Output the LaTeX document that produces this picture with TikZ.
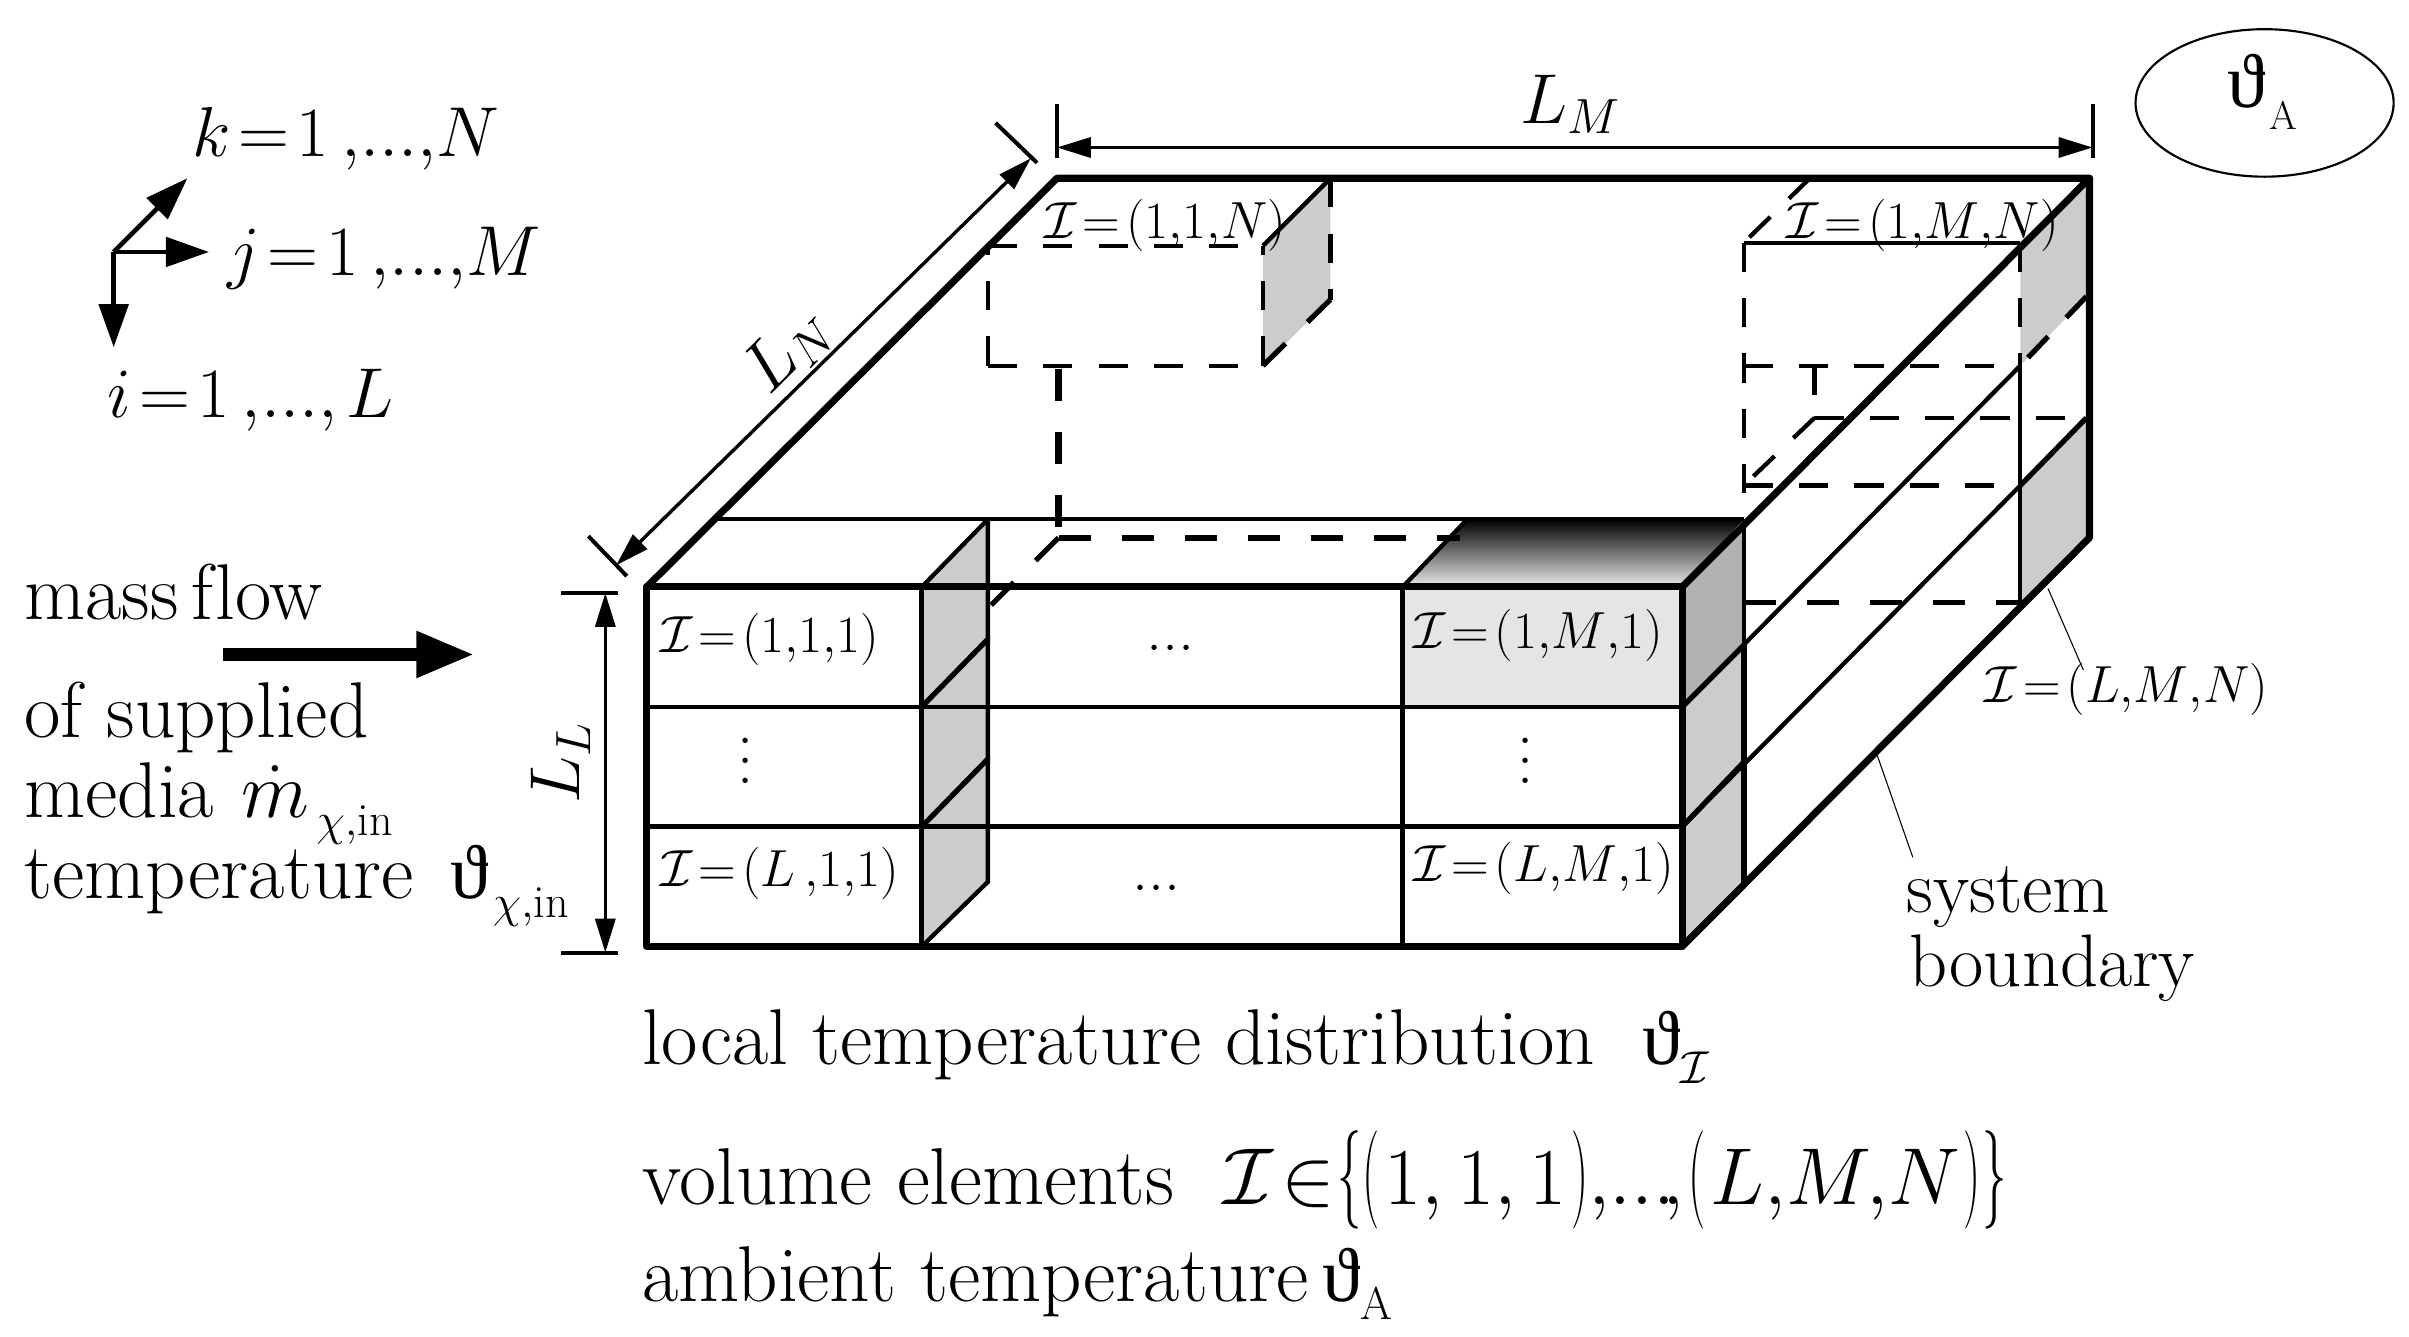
\RequirePackage{fix-cm}
\documentclass[tikz,border=0pt]{standalone}
\usepackage[no-math]{fontspec}
\usepackage{graphicx}
\newfontfamily\symfont{Liberation Serif}
\usetikzlibrary{arrows.meta,shapes.geometric}
\newcommand{\txtbig}{\fontsize{51.5}{56}\selectfont}
\newcommand{\txtsys}{\fontsize{48.5}{52}\selectfont}
\newcommand{\txtmath}{\fontsize{46}{50}\selectfont}
\newcommand{\txtdim}{\fontsize{46}{50}\selectfont}
\newcommand{\txtcell}{\fontsize{34}{40}\selectfont}
\newcommand{\txtdots}{\fontsize{42}{44}\selectfont}
\newcommand{\calI}{\mathcal{I}}
\newcommand{\vth}{{\symfont\fontsize{50}{50}\selectfont\symbol{"03D1}}}
\newcommand{\subtxt}[1]{\raisebox{-12pt}{\fontsize{30}{30}\selectfont #1}}
\newcommand{\tallp}[1]{\scalebox{0.6}[1.22]{$#1$}}
\newcommand{\vdotsbox}{\vbox{\baselineskip=13pt\lineskiplimit=-100pt\hbox{.}\hbox{.}\hbox{.}}}
\tikzset{
  lab/.style={anchor=base west,inner sep=0pt,outer sep=0pt},
  bigtext/.style={lab,font=\txtbig},
  celltext/.style={lab,font=\txtcell},
  outer/.style={line width=4.6pt,line cap=round,line join=round},
  inner/.style={line width=2.8pt},
  mid/.style={line width=3.4pt},
  hid/.style={line width=2.8pt,dash pattern=on 19pt off 17pt},
  hidthick/.style={line width=4.2pt,dash pattern=on 21pt off 20pt},
  dimline/.style={line width=2.2pt,{Triangle[length=22pt,width=13pt]}-{Triangle[length=22pt,width=13pt]}},
  tick/.style={line width=2.6pt},
  axis/.style={line width=3pt,-{Triangle[length=28pt,width=19pt]}},
  leader/.style={line width=0.7pt},
  panel/.style={fill=black!20,draw=none},
}
\begin{document}
\begin{tikzpicture}[x=1pt,y=-1pt]
\useasboundingbox (0,0) rectangle (1568,869.6);
% key corners
\coordinate (FTL) at (421,382);
\coordinate (FTR) at (1095,382);
\coordinate (FBR) at (1095,616);
\coordinate (FBL) at (421,616);
\coordinate (BTL) at (688,116);
\coordinate (BTR) at (1360,116);
\coordinate (BBR) at (1360,350);
% fills
\fill[black!10] (913,382) rectangle (1095,460);
\shade[top color=black,bottom color=black!8] (955,338) -- (1135,338) -- (1095,382) -- (913,382) -- cycle;
\fill[panel] (600,382) -- (643,338) -- (643,574) -- (600,616) -- cycle;
\fill[panel] (1095,460) -- (1135,420) -- (1135,574) -- (1095,616) -- cycle;
\fill[black!30] (1095,382) -- (1135,340) -- (1135,420) -- (1095,460) -- cycle;
\fill[panel] (822,160) -- (866,116) -- (866,195) -- (822,238) -- cycle;
\fill[panel] (1315,158) -- (1358,116) -- (1358,193) -- (1315,238) -- cycle;
\fill[panel] (1315,316) -- (1358,272) -- (1358,350) -- (1315,392) -- cycle;
% hidden edges
\draw[hid] (643,160) -- (822,160);
\draw[hid] (643,238) -- (643,160);
\draw[hid] (643,238) -- (822,238);
\draw[hid] (822,238) -- (822,160);
\draw[hid] (866,116) -- (866,195);
\draw[hidthick,line width=3.4pt] (866,195) -- (822,238);
\draw[inner] (822,160) -- (866,116);
\draw[hidthick] (689,240) -- (689,350);
\draw[hidthick] (689,350) -- (950,350);
\draw[hidthick,line width=3.4pt] (689,350) -- (643,396);
\draw[hid] (1178,116) -- (1135,158);
\draw[inner] (1135,158) -- (1315,158);
\draw[hid] (1135,158) -- (1135,340);
\draw[hid] (1315,158) -- (1315,238);
\draw[hid] (1135,238) -- (1315,238);
\draw[hid] (1135,316) -- (1315,316);
\draw[hidthick,line width=3pt] (1135,392) -- (1315,392);
\draw[hid] (1181,238) -- (1181,272);
\draw[hid] (1181,272) -- (1358,272);
\draw[hid] (1181,272) -- (1135,316);
\draw[hid,line width=3.4pt] (1358,193) -- (1315,238);
% visible thin edges
\draw[inner] (464,338) -- (1135,338);
\draw[inner] (643,338) -- (643,574) -- (600,616);
\draw[inner] (600,382) -- (643,338);
\draw[mid] (600,460) -- (643,416);
\draw[mid] (600,538) -- (643,494);
\draw[inner] (421,460) -- (1095,460);
\draw[mid] (421,538) -- (1095,538);
\draw[mid] (600,382) -- (600,616);
\draw[mid] (913,382) -- (913,616);
\draw[inner] (913,382) -- (955,338);
\draw[inner] (1315,238) -- (1095,460);
\draw[inner] (1315,316) -- (1095,538);
\draw[inner] (1315,238) -- (1315,392);
\draw[mid] (1358,272) -- (1315,316);
\draw[inner] (1135,340) -- (1135,420);
\draw[outer,line width=3.6pt] (1135,420) -- (1135,574);
\draw[mid] (1095,460) -- (1135,420);
\draw[mid] (1095,538) -- (1135,496);
% outer edges
\draw[outer] (FTL) -- (FTR) -- (FBR) -- (FBL) -- cycle;
\draw[outer] (FTL) -- (BTL) -- (BTR) -- (BBR) -- (FBR);
\draw[outer] (BTR) -- (FTR);
% dimensions
\coordinate (LMa) at (688,96); \coordinate (LMb) at (1362,96);
\draw[dimline] (LMa) -- (LMb);
\draw[tick] (688,68) -- (688,103);
\draw[tick] (1362,68) -- (1362,103);
\coordinate (LNa) at (401,368); \coordinate (LNb) at (671,103);
\draw[dimline] (LNa) -- (LNb);
\draw[tick] (383,349) -- (408,375);
\draw[tick] (648,80) -- (675,106);
\coordinate (LLa) at (394,386); \coordinate (LLb) at (394,620);
\draw[dimline] (LLa) -- (LLb);
\draw[tick] (365,386) -- (402,386);
\draw[tick] (365,620) -- (402,620);
% axes
\coordinate (O) at (74,164);
\coordinate (axk) at (122,116);
\coordinate (axj) at (136,164);
\coordinate (axi) at (74,226);
\draw[axis] (O) -- (axk);
\draw[axis] (O) -- (axj);
\draw[axis] (O) -- (axi);
% mass flow arrow
\coordinate (mfa) at (145,426); \coordinate (mfb) at (309,426);
\draw[line width=9pt,-{Triangle[length=38pt,width=28pt,inset=0pt]}] (mfa) -- (mfb);
% leaders
\draw[leader] (1333,383) -- (1356,436);
\draw[leader] (1222,492) -- (1245,558);
% ellipse
\node[draw,ellipse,line width=1.4pt,minimum width=168pt,minimum height=96pt,inner sep=0pt] (amb) at (1474,67) {};
\node[lab] (ambt) at (1450,70) {\vth};
\node[lab,font=\fontsize{26}{30}\selectfont] (ambs) at (1477,84) {A};
% axis labels
\node[lab,font=\txtmath] (lk) at (125,102) {$k\!=\!1\,{,}...{,}N$};
\node[lab,font=\txtmath] (lj) at (148,179) {$j\!=\!1\,{,}...{,}M$};
\node[lab,font=\txtmath] (li) at (70,272) {$i\!=\!1\,{,}...{,}\kern6pt L$};
% left texts
\node[bigtext] (t1) at (16,403) {mass\,f\kern1pt low};
\node[bigtext] (t2) at (16,480) {of supplied};
\node[bigtext] (t3) at (16,532) {media\ \kern2pt$\dot m$\kern5pt\subtxt{$\chi{,}$in}};
\node[bigtext] (t4) at (16,585) {temperature\kern24pt\vth\kern3pt\subtxt{$\chi{,}$in}};
% bottom texts
\node[bigtext] (t5) at (418,693) {local temperature distribution\ \ \vth\subtxt{$\calI$}};
\node[bigtext,font=\fontsize{52.5}{56}\selectfont] (t6) at (418,784) {volume elements\ \ $\calI\!\in$\kern1pt\tallp{\{}\kern1pt\tallp{(}\kern3pt$1,1,1$\kern3pt\tallp{)}$,\!...\!,$\kern3pt\tallp{(}\kern3pt$L,\!M,\!N$\kern2pt\tallp{)}\kern1pt\tallp{\}}};
\node[bigtext] (t7) at (418,847) {ambient temperature\,\vth\subtxt{A}};
\node[lab,font=\txtsys] (t8) at (1241,594) {system};
\node[lab,font=\txtsys] (t9) at (1243,642) {boundary};
% dimension labels
\node[font=\txtdim,inner sep=0pt] (lLM) at (1022,68) {$L_M$};
\node[font=\txtdim,inner sep=0pt,rotate=45] (lLN) at (513,228) {$L_N$};
\node[font=\txtdim,inner sep=0pt,rotate=90] (lLL) at (365,497) {$L_L$};
% cell labels
\node[celltext] (c1) at (430,425) {$\calI\!=\!(1{,}1{,}1)$};
\node[celltext] (c2) at (920,422) {$\calI\!=\!(1{,}M{,}1)$};
\node[celltext] (c3) at (430,577) {$\calI\!=\!(L\,{,}1{,}1)$};
\node[celltext] (c4) at (920,574) {$\calI\!=\!(L{,}M{,}1)$};
\node[celltext] (c5) at (680,155) {$\calI\!=\!(1{,}1{,}N)$};
\node[celltext] (c6) at (1163,155) {$\calI\!=\!(1{,}M{,}N)$};
\node[celltext] (c7) at (1292,457) {$\calI\!=\!(L{,}M{,}N)$};
\node[font=\txtdots,inner sep=0pt] (d1) at (762,422) {...};
\node[font=\txtdots,inner sep=0pt] (d2) at (753,578) {...};
\node[font=\txtdots,inner sep=0pt,anchor=base] (d3) at (485,510) {\vdotsbox};
\node[font=\txtdots,inner sep=0pt,anchor=base] (d4) at (993,510) {\vdotsbox};
\end{tikzpicture}
\end{document}
